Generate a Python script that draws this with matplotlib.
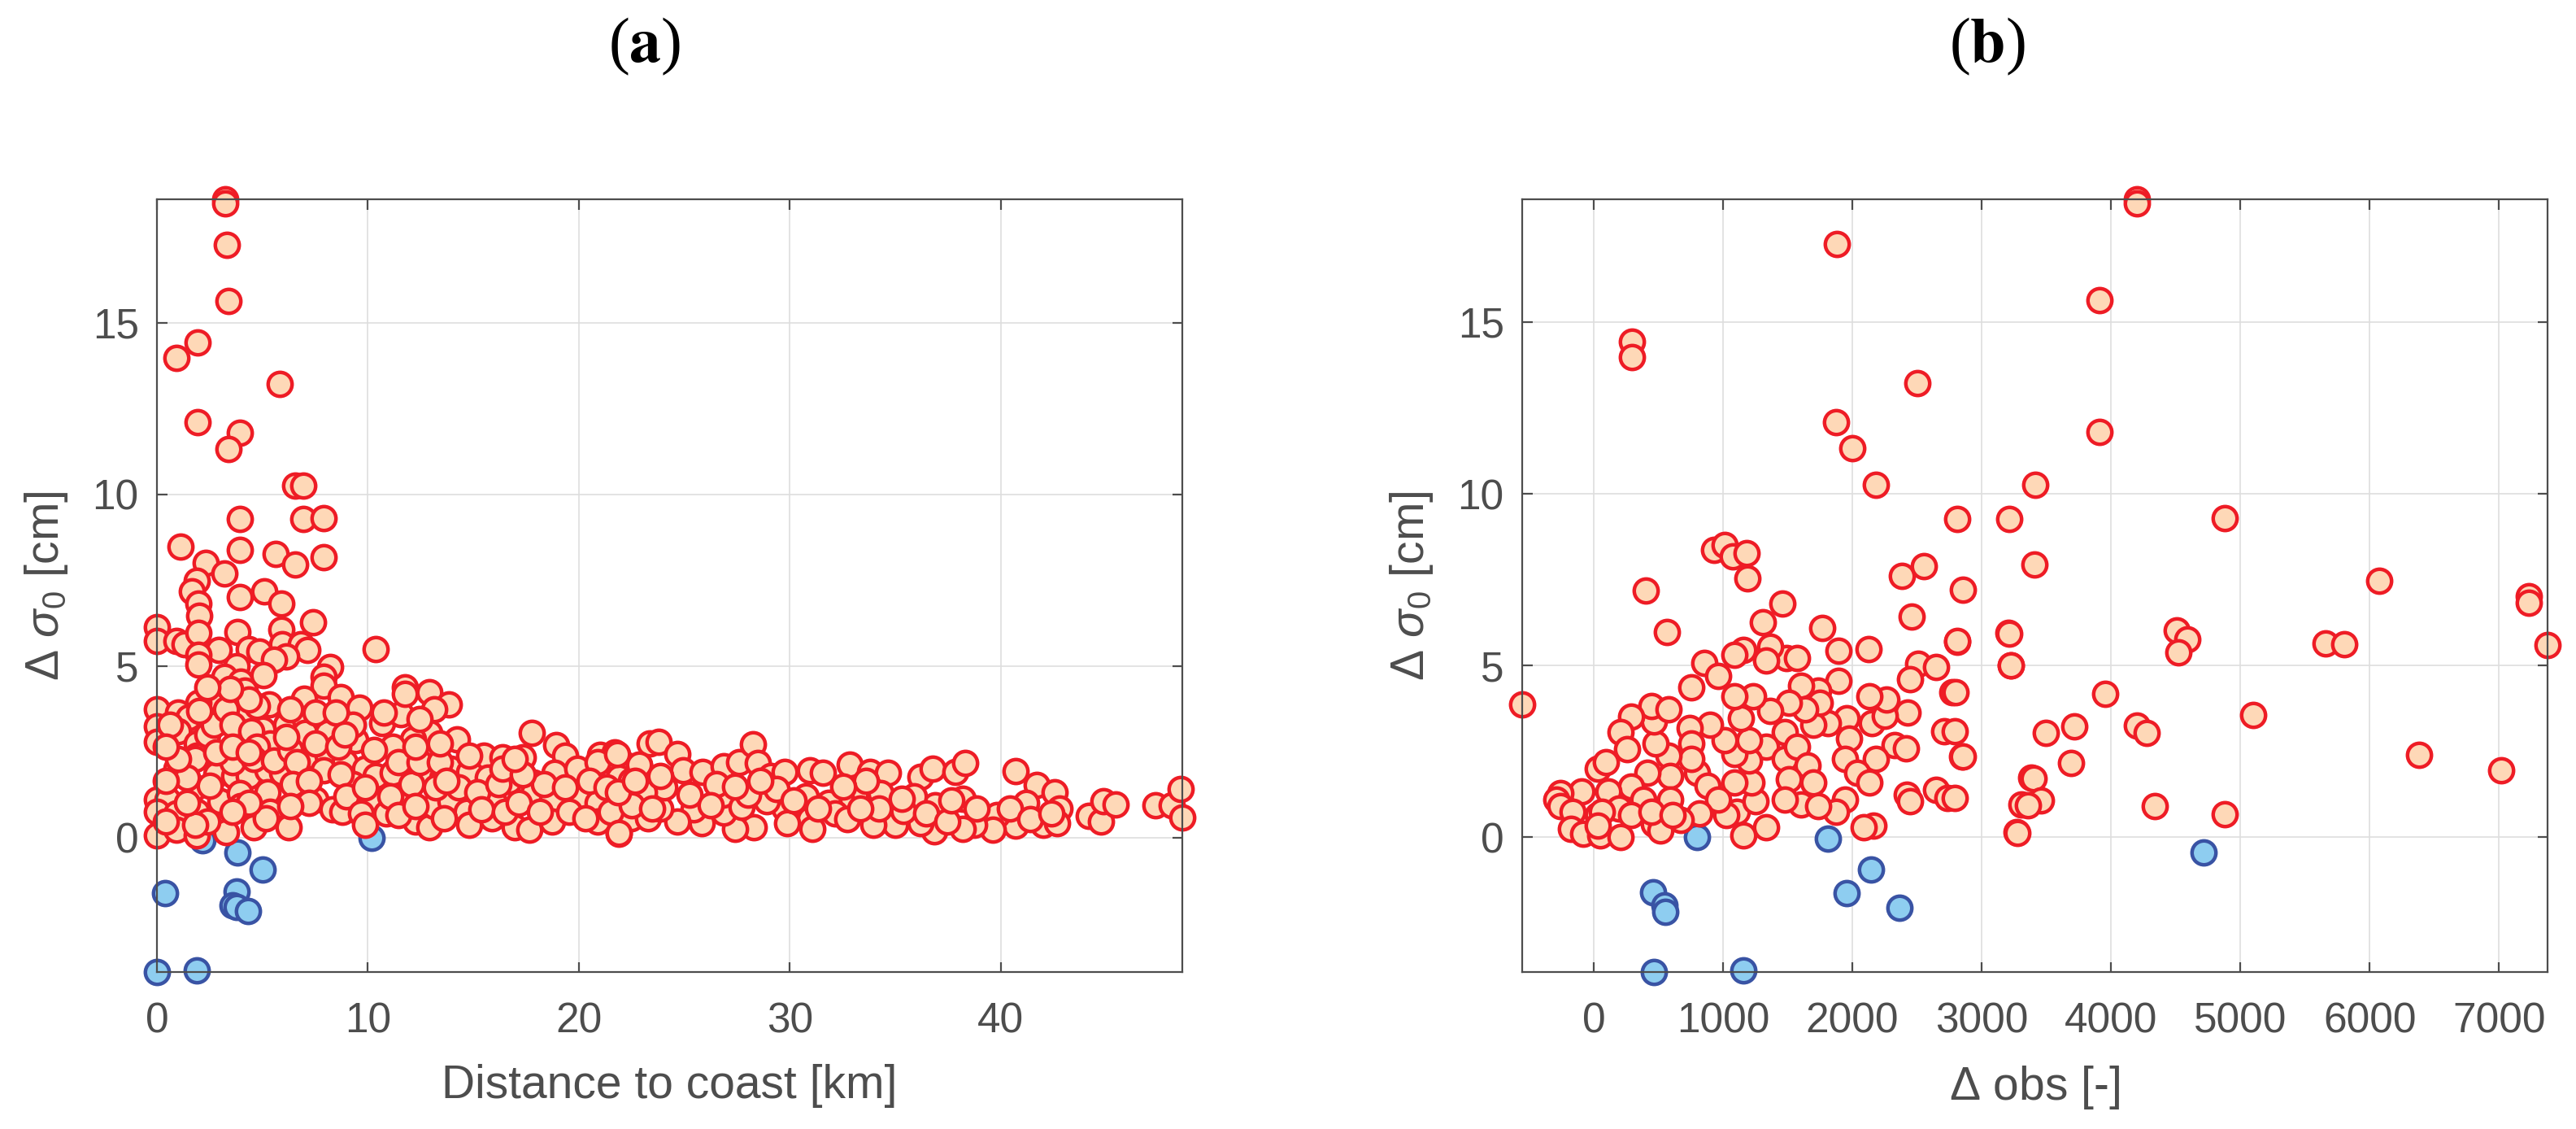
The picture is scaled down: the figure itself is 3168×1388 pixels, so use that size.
import numpy as np
import matplotlib
matplotlib.use("Agg")
import matplotlib.pyplot as plt

plt.rcParams['font.family'] = ['Liberation Sans', 'DejaVu Sans']
plt.rcParams['mathtext.fontset'] = 'custom'
plt.rcParams['mathtext.rm'] = 'Liberation Sans'
plt.rcParams['mathtext.it'] = 'Liberation Sans:italic'
plt.rcParams['mathtext.bf'] = 'Liberation Sans:bold'

# Panel (a): distance to coast [km] vs delta sigma0 [cm]
red_a = np.array([
    [3.23, 18.59], [3.23, 18.48], [3.33, 17.27], [3.40, 15.62], [1.93, 14.42],
    [0.91, 13.98], [5.83, 13.22], [1.93, 12.09], [3.92, 11.79], [3.40, 11.31],
    [6.54, 10.25], [6.93, 10.25], [3.92, 9.27], [6.93, 9.27], [7.91, 9.30],
    [1.12, 8.47], [3.92, 8.37], [5.61, 8.26], [7.89, 8.16], [2.32, 8.00],
    [6.57, 7.96], [3.21, 7.70], [1.91, 7.47], [1.67, 7.18], [1.95, 6.82],
    [2.00, 6.46], [3.92, 7.00], [5.08, 7.18], [5.90, 6.82], [7.40, 6.27],
    [0.00, 6.14], [0.00, 5.73], [0.93, 5.73], [1.32, 5.64], [1.97, 5.96],
    [3.80, 5.98], [5.90, 6.05], [2.95, 5.46], [1.97, 5.32], [1.97, 5.05],
    [4.37, 5.50], [4.86, 5.41], [5.94, 5.64], [6.83, 5.64], [7.13, 5.46],
    [6.14, 5.28], [5.55, 5.19], [3.78, 5.00], [3.19, 4.69], [3.98, 4.55],
    [5.06, 4.73], [4.17, 4.28], [8.21, 4.96], [7.91, 4.69], [7.91, 4.42],
    [10.37, 5.50], [3.19, 4.10], [2.80, 3.83], [2.99, 3.46], [1.97, 3.92],
    [0.00, 3.74], [0.00, 3.24], [0.00, 2.78], [1.02, 3.64], [1.52, 3.51],
    [1.02, 3.10], [1.91, 2.74], [1.91, 2.38], [4.02, 3.55], [5.31, 3.87],
    [3.82, 2.87], [5.00, 3.15], [5.35, 2.74], [6.14, 3.28], [6.97, 4.05],
    [7.03, 3.46], [7.03, 3.06], [8.70, 4.10], [9.61, 3.78], [8.11, 3.06],
    [9.39, 2.83], [9.29, 3.28], [10.67, 3.33], [11.56, 3.60], [11.75, 4.37],
    [11.75, 4.19], [12.93, 4.23], [13.82, 3.87], [13.13, 3.74], [12.93, 3.06],
    [12.15, 2.87], [11.16, 2.65], [14.21, 2.87], [17.76, 3.06], [15.49, 2.38],
    [16.38, 2.33], [17.36, 2.33], [18.94, 2.69], [19.33, 2.38], [21.00, 2.42],
    [21.69, 2.47], [22.28, 2.10], [23.37, 2.74], [0.93, 2.01], [1.81, 2.28],
    [2.80, 1.83], [3.68, 1.79], [4.37, 1.79], [5.26, 1.97], [5.94, 1.88],
    [3.58, 2.19], [7.17, 2.38], [8.11, 2.38], [7.91, 1.97], [8.90, 2.19],
    [9.88, 2.01], [10.37, 1.79], [11.16, 1.88], [12.74, 1.79], [13.52, 1.74],
    [13.92, 2.01], [14.80, 1.92], [15.69, 1.74], [16.67, 1.65], [17.85, 1.60],
    [18.83, 1.88], [19.92, 2.01], [20.90, 2.19], [21.89, 1.74], [22.87, 2.10],
    [23.07, 1.33], [0.00, 1.10], [0.49, 1.10], [0.00, 0.74], [0.00, 0.06],
    [0.93, 0.70], [0.93, 0.24], [1.81, 1.47], [1.91, 0.74], [1.91, 0.06],
    [2.99, 1.06], [3.29, 0.15], [3.94, 1.29], [3.98, 0.92], [4.57, 0.29],
    [5.26, 1.33], [5.35, 0.74], [6.24, 0.29], [7.52, 1.10], [8.31, 0.83],
    [8.80, 0.74], [9.29, 1.56], [10.28, 1.02], [10.87, 0.70], [11.75, 1.10],
    [12.24, 0.47], [12.93, 0.29], [13.13, 0.92], [13.92, 1.06], [14.70, 0.74],
    [14.80, 0.38], [15.98, 1.02], [15.89, 0.56], [16.97, 0.29], [17.66, 0.24],
    [17.85, 1.29], [18.74, 1.10], [18.74, 0.47], [20.02, 1.10], [20.90, 1.02],
    [20.90, 0.47], [21.89, 1.29], [21.89, 0.11], [22.48, 0.56], [22.97, 0.92],
    [1.42, 1.74], [1.02, 2.28], [2.40, 3.01], [2.70, 3.28], [3.29, 3.74],
    [3.58, 3.28], [4.47, 3.10], [4.76, 2.65], [4.57, 2.28], [5.55, 2.24],
    [6.34, 2.56], [6.63, 2.19], [6.44, 1.56], [7.22, 1.65], [7.52, 2.74],
    [8.60, 2.65], [8.70, 1.83], [9.00, 1.20], [9.69, 0.70], [9.88, 1.47],
    [11.46, 2.19], [12.05, 1.56], [12.44, 2.19], [13.43, 2.19], [13.23, 1.47],
    [14.31, 1.47], [15.20, 1.33], [16.18, 1.56], [15.39, 0.83], [16.48, 0.74],
    [17.17, 1.02], [18.15, 0.74], [18.35, 1.56], [19.33, 1.47], [19.53, 0.74],
    [20.31, 0.56], [20.51, 1.65], [21.30, 1.47], [21.50, 0.74], [22.48, 1.65],
    [22.68, 1.10], [23.27, 0.56], [16.38, 2.01], [17.36, 1.83], [16.97, 2.28],
    [14.80, 2.38], [13.72, 1.65], [11.06, 1.20], [11.46, 0.65], [12.24, 0.92],
    [13.62, 0.56], [9.88, 0.38], [7.22, 1.02], [6.34, 0.92], [5.16, 0.56],
    [4.37, 1.02], [3.58, 0.74], [2.40, 0.47], [1.81, 0.38], [1.42, 1.02],
    [0.43, 0.47], [0.43, 1.65], [2.50, 1.51], [2.80, 2.47], [3.58, 2.65],
    [4.37, 2.47], [6.14, 2.92], [6.34, 3.74], [4.76, 3.83], [4.37, 4.01],
    [3.48, 4.32], [2.40, 4.37], [2.00, 3.69], [0.63, 3.28], [0.43, 2.65],
    [7.52, 3.64], [8.50, 3.64], [8.90, 3.01], [10.28, 2.56], [10.77, 3.64],
    [12.44, 3.46], [12.24, 2.65], [13.43, 2.74],
    [21.80, 2.43], [23.77, 2.79], [24.65, 2.43], [22.84, 2.12], [24.95, 1.96],
    [25.87, 1.92], [26.86, 2.08], [27.60, 2.20], [28.26, 2.71], [28.49, 2.18],
    [29.08, 1.80], [29.77, 1.92], [30.96, 1.96], [31.55, 1.88], [32.83, 2.12],
    [33.81, 1.92], [34.64, 1.88], [36.18, 1.76], [36.77, 2.00], [37.85, 1.92],
    [38.30, 2.16], [40.70, 1.94], [41.69, 1.52], [42.54, 1.33], [42.78, 0.85],
    [41.99, 0.38], [42.68, 0.42], [41.20, 1.01], [40.70, 0.34], [39.82, 0.66],
    [39.62, 0.22], [38.74, 0.38], [38.21, 0.26], [38.21, 1.13], [36.87, 0.93],
    [36.83, 0.18], [36.18, 0.42], [35.88, 1.21], [34.99, 0.38], [35.39, 0.77],
    [33.95, 0.38], [34.30, 1.29], [34.21, 0.85], [33.12, 1.25], [32.43, 1.17],
    [31.84, 1.01], [32.14, 0.70], [32.73, 0.54], [30.96, 0.54], [31.05, 0.26],
    [30.76, 1.21], [29.77, 0.85], [29.87, 0.42], [28.89, 1.05], [28.30, 0.30],
    [27.41, 0.26], [26.86, 0.73], [26.82, 1.25], [25.83, 0.42], [25.44, 0.81],
    [24.65, 0.46], [23.86, 0.85], [24.06, 1.45], [23.08, 1.33], [22.49, 0.93],
    [21.85, 1.33], [21.89, 0.14], [26.52, 1.56], [27.70, 0.89], [44.15, 0.62],
    [44.75, 0.46], [44.85, 1.05], [45.44, 0.97], [47.31, 0.93], [48.10, 0.93],
    [48.53, 1.41], [48.59, 0.58],
    [23.47, 0.85], [25.24, 1.25], [26.23, 0.93], [28.00, 1.25], [29.38, 1.41],
    [30.17, 1.09], [31.35, 0.85], [33.32, 0.85], [33.62, 1.64], [35.29, 1.13],
    [36.47, 0.70], [37.46, 0.46], [37.65, 1.09], [38.84, 0.85], [40.41, 0.85],
    [41.40, 0.54], [42.38, 0.70], [27.41, 1.48], [28.59, 1.64], [32.53, 1.48],
    [23.86, 1.80], [22.68, 1.64],
])
blue_a = np.array([
    [2.15, -0.07], [3.82, -0.44], [5.00, -0.93], [0.39, -1.63], [3.78, -1.57],
    [3.58, -1.98], [3.78, -2.02], [4.33, -2.14], [10.18, 0.00], [0.00, -3.92],
    [1.91, -3.88],
])

# Panel (b): delta obs [-] vs delta sigma0 [cm]
red_b = np.array([
    [4203, 18.57], [4203, 18.45], [1881, 17.28], [3913, 15.63], [298, 14.42],
    [298, 13.98], [2505, 13.23], [1876, 12.09], [1998, 11.32], [3913, 11.80],
    [2182, 10.26], [3417, 10.26], [2811, 9.27], [3214, 9.27], [4881, 9.30],
    [3408, 7.94], [2858, 7.21], [6072, 7.48], [7233, 7.03], [7233, 6.82],
    [-553, 3.87], [401, 7.18], [565, 5.97], [931, 8.38], [1011, 8.50],
    [1075, 8.18], [1181, 8.27], [1187, 7.54], [1460, 6.80], [1309, 6.27],
    [1765, 6.09], [1893, 5.44], [2128, 5.49], [2384, 7.61], [2551, 7.90],
    [2461, 6.43], [3209, 5.96], [2808, 5.70], [3225, 5.00], [2776, 4.23],
    [2712, 3.08], [2850, 2.36], [3385, 1.74], [3305, 0.97], [3273, 0.15],
    [2647, 1.38], [2734, 1.15], [2423, 1.24], [2445, 1.06], [2166, 0.34],
    [2086, 0.29], [2509, 5.05], [2647, 4.96], [2445, 4.60], [2429, 3.64],
    [2326, 2.69], [2413, 2.60], [2182, 2.28], [2150, 3.33], [2253, 3.55],
    [2262, 4.01], [2134, 4.10], [1893, 4.55], [1733, 4.28], [1605, 4.42],
    [1492, 5.23], [1364, 5.55], [1332, 5.14], [1572, 5.23], [1156, 5.46],
    [1091, 5.32], [857, 5.07], [963, 4.69], [754, 4.37], [1957, 3.46],
    [1973, 2.87], [1941, 2.28], [2038, 1.88], [2134, 1.60], [1941, 1.10],
    [1877, 0.74], [1813, 3.33], [1701, 3.28], [1749, 3.92], [1637, 3.74],
    [1508, 3.92], [1364, 3.69], [1476, 3.06], [1332, 2.65], [1476, 2.28],
    [1572, 2.65], [1652, 2.10], [1508, 1.70], [1701, 1.60], [1605, 0.97],
    [1733, 0.92], [1476, 1.10], [1332, 0.29], [1156, 0.06], [1107, 0.74],
    [1252, 1.06], [1219, 1.60], [1091, 1.60], [1027, 0.65], [1203, 2.24],
    [1091, 2.42], [1203, 2.83], [1011, 2.83], [1139, 3.46], [1236, 4.10],
    [1091, 4.10], [899, 3.28], [802, 1.88], [882, 1.51], [963, 1.10],
    [818, 0.70], [744, 3.19], [754, 2.74], [754, 2.28], [578, 2.38],
    [594, 1.79], [417, 1.88], [481, 2.74], [465, 3.37], [449, 3.83],
    [578, 3.74], [289, 3.51], [209, 3.06], [257, 2.56], [32, 2.01],
    [96, 2.19], [289, 1.47], [112, 1.33], [-96, 1.33], [-257, 1.29],
    [-289, 1.10], [-257, 0.92], [-160, 0.74], [32, 0.65], [193, 0.83],
    [64, 0.74], [-176, 0.24], [-80, 0.11], [48, 0.06], [209, 0.02],
    [32, 0.34], [385, 1.10], [465, 0.38], [594, 1.10], [513, 0.20],
    [674, 0.52], [289, 0.65], [449, 0.74], [610, 0.65],
    [3214, 5.93], [2813, 5.72], [3229, 5.00], [2798, 4.22], [2790, 3.08],
    [2853, 2.35], [2790, 1.15], [3953, 4.19], [3497, 3.05], [3716, 3.23],
    [3692, 2.16], [3405, 1.72], [3460, 1.07], [3359, 0.94], [3276, 0.14],
    [4199, 3.26], [4277, 3.04], [4338, 0.91], [4508, 6.02], [4591, 5.76],
    [4522, 5.39], [4881, 0.68], [5102, 3.56], [5662, 5.64], [5801, 5.62],
    [6380, 2.40], [7018, 1.95], [7375, 5.59],
])
blue_b = np.array([
    [802, 0.00], [1813, -0.03], [2144, -0.93], [1957, -1.63], [2362, -2.04],
    [459, -1.59], [546, -1.98], [552, -2.16], [465, -3.92], [1155, -3.88],
    [4714, -0.43],
])

panels = [
    ('a', red_a, blue_a, 'Distance to coast [km]', [0, 10, 20, 30, 40]),
    ('b', red_b, blue_b, r'$\Delta$ obs [-]', [0, 1000, 2000, 3000, 4000, 5000, 6000, 7000]),
]
axes_pos = [[0.0609, 0.1390, 0.3980, 0.6844], [0.5909, 0.1390, 0.3980, 0.6844]]
title_x = [0.2503, 0.7715]

axis_col = '#4d4d4d'
fig = plt.figure(figsize=(15.84, 6.94), dpi=200)

for (letter, red, blue, xlab, xt), pos, tx in zip(panels, axes_pos, title_x):
    ax = fig.add_axes(pos)
    ax.scatter(blue[:, 0], blue[:, 1], s=112, facecolor='#8ecdf0', edgecolor='#3953a4',
               linewidth=1.6, zorder=3, clip_on=False)
    ax.scatter(red[:, 0], red[:, 1], s=112, facecolor='#fed8b7', edgecolor='#ee1c25',
               linewidth=1.6, zorder=4, clip_on=False)
    allx = np.concatenate([red[:, 0], blue[:, 0]])
    ally = np.concatenate([red[:, 1], blue[:, 1]])
    ax.set_xlim(allx.min(), allx.max())
    ax.set_ylim(ally.min(), ally.max())
    ax.set_xticks(xt)
    ax.set_yticks([0, 5, 10, 15])
    ax.grid(True, color='#dedede', linewidth=0.6)
    ax.set_axisbelow(True)
    for sp in ax.spines.values():
        sp.set_color(axis_col)
        sp.set_linewidth(0.8)
        sp.set_zorder(5)
    ax.tick_params(direction='in', length=4.5, width=0.8, color=axis_col,
                   labelcolor=axis_col, labelsize=18.5, top=True, right=True)
    ax.tick_params(axis='x', pad=13)
    ax.tick_params(axis='y', pad=8)
    ax.set_xlabel(xlab, fontsize=20.5, color=axis_col, labelpad=10)
    ax.set_ylabel(r'$\Delta\ \sigma_0$ [cm]', fontsize=20.5, color=axis_col, labelpad=10)
    fig.text(tx, 0.959, '($\\mathbf{%s}$)' % letter, ha='center', va='center',
             fontsize=28, family='Liberation Serif', math_fontfamily='stix', color='black')

fig.savefig('out.png', dpi=200)
